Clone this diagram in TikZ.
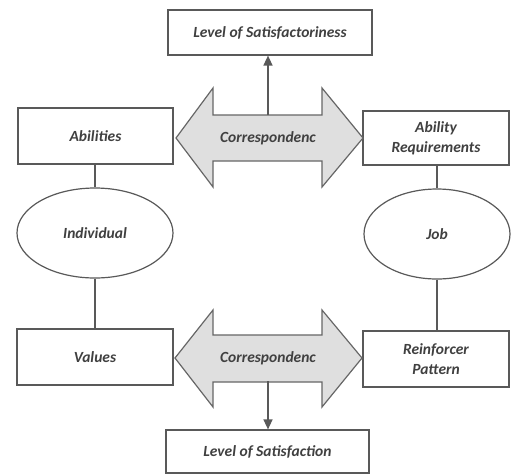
\documentclass[tikz,border=0pt]{standalone}
\usepackage{fontspec}
\setmainfont{Carlito}
\usepackage{tikz}
\usetikzlibrary{arrows.meta}
\usetikzlibrary{shapes.geometric}

\begin{document}
\begin{tikzpicture}[x=1pt, y=-1pt,
    txt/.style={font=\fontsize{15.5}{20}\selectfont\bfseries\itshape, text=black!75, align=center},
    box/.style={txt, draw=black!65, line width=1.2pt, fill=white, rectangle, inner sep=0pt},
    oval/.style={txt, draw=black!65, line width=1.2pt, fill=white, ellipse, inner sep=0pt},
    corr/.style={draw=black!60, line width=1.2pt, fill=gray!25, line join=miter},
    link/.style={draw=black!65, line width=1.4pt},
    up/.style={link, -{Triangle[width=9pt, length=10pt]}}]
  \useasboundingbox (0,0) rectangle (511,475);

  % Upper row
  \node[box, minimum width=204pt, minimum height=45pt] (sat) at (270,32.5) {Level of Satisfactoriness};
  \node[box, minimum width=155pt, minimum height=56pt] (abil) at (95.5,136) {Abilities};
  \node[box, minimum width=146pt, minimum height=54pt] (abreq) at (436,138) {Ability\\Requirements};
  \filldraw[corr] (176,138) -- (213,88) -- (213,115) -- (322,115) -- (322,88) -- (363,138)
    -- (322,187) -- (322,161) -- (213,161) -- (213,187) -- cycle;
  \node[txt, minimum width=109pt, minimum height=46pt, inner sep=0pt] (corr1) at (268,138) {Correspondenc};
  \draw[up] (corr1.north) -- (corr1.north |- sat.south);

  % Middle
  \node[oval, minimum width=156pt, minimum height=90pt] (indiv) at (95,233) {Individual};
  \node[oval, minimum width=146pt, minimum height=90pt] (job) at (437,234) {Job};

  % Lower row
  \node[box, minimum width=156pt, minimum height=56pt] (val) at (95,357) {Values};
  \node[box, minimum width=146pt, minimum height=56pt] (reinf) at (436,359) {Reinforcer\\Pattern};
  \filldraw[corr] (175,358) -- (213,310) -- (213,335) -- (322,335) -- (322,310) -- (362,358)
    -- (322,407) -- (322,382) -- (213,382) -- (213,407) -- cycle;
  \node[txt, minimum width=109pt, minimum height=46pt, inner sep=0pt] (corr2) at (268,358) {Correspondenc};
  \node[box, minimum width=203pt, minimum height=43pt] (satf) at (267.5,451.5) {Level of Satisfaction};
  \draw[up] (corr2.south) -- (corr2.south |- satf.north);

  % Links
  \draw[link] (abil.south -| indiv.north) -- (indiv.north);
  \draw[link] (indiv.south) -- (indiv.south |- val.north);
  \draw[link] (abreq.south -| job.north) -- (job.north);
  \draw[link] (job.south) -- (job.south |- reinf.north);
\end{tikzpicture}
\end{document}
